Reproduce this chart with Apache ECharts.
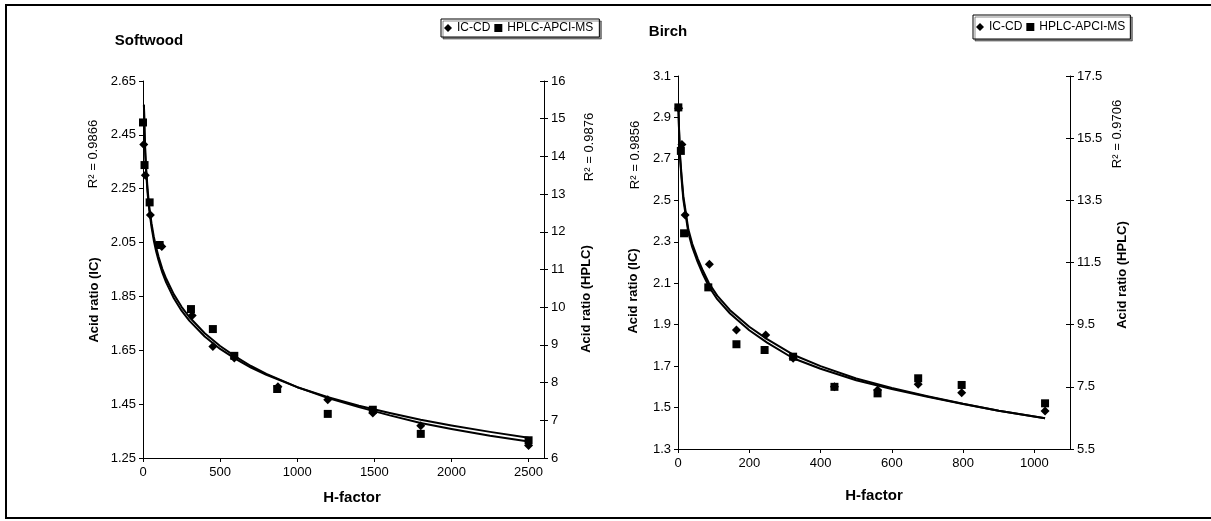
<!DOCTYPE html>
<html>
<head>
<meta charset="utf-8">
<script src="https://cdn.jsdelivr.net/npm/echarts@6/dist/echarts.min.js"></script>
<style>html,body{margin:0;padding:0;background:#fff}#c{width:1211px;height:521px}</style>
</head>
<body>
<div id="c"></div>
<script>
// ---------- Softwood ----------
const swIcH = [5, 15, 48, 122, 319, 453, 592, 875, 1198, 1490, 1801, 2500];
const swIcV = [2.414, 2.30, 2.152, 2.035, 1.779, 1.664, 1.621, 1.515, 1.466, 1.417, 1.37, 1.296];
const swHpH = [0, 10, 43, 108, 311, 453, 592, 870, 1198, 1490, 1801, 2500];
const swHpV = [14.9, 13.77, 12.78, 11.65, 9.95, 9.42, 8.71, 7.83, 7.17, 7.28, 6.64, 6.47];
const swTrH = [6, 10, 15, 20, 30, 40, 55, 70, 85, 100, 125, 150, 200, 250, 300, 400, 500, 600, 700, 800, 1000, 1200, 1400, 1600, 1800, 2000, 2250, 2500];
const swTrIcV = [2.562, 2.457, 2.374, 2.315, 2.232, 2.173, 2.108, 2.058, 2.018, 1.985, 1.939, 1.902, 1.843, 1.797, 1.760, 1.701, 1.655, 1.618, 1.586, 1.559, 1.513, 1.476, 1.444, 1.417, 1.392, 1.371, 1.347, 1.325];
const swTrHpV = [15.37, 14.67, 14.10, 13.71, 13.11, 12.69, 12.23, 11.87, 11.59, 11.35, 11.02, 10.76, 10.34, 10.01, 9.74, 9.31, 8.97, 8.69, 8.44, 8.23, 7.88, 7.59, 7.35, 7.13, 6.93, 6.77, 6.59, 6.44];
const swXTicks = [0, 500, 1000, 1500, 2000, 2500];
const swIcTicks = [1.25, 1.45, 1.65, 1.85, 2.05, 2.25, 2.45, 2.65];
const swHpTicks = [6, 7, 8, 9, 10, 11, 12, 13, 14, 15, 16];

// ---------- Birch ----------
const bIcH = [2, 11, 20, 88, 164, 246, 323, 439, 560, 674, 796, 1030];
const bIcV = [2.944, 2.77, 2.429, 2.191, 1.874, 1.85, 1.738, 1.601, 1.585, 1.612, 1.572, 1.483];
const bHpH = [1, 8, 17, 85, 164, 243, 323, 439, 560, 674, 796, 1030];
const bHpV = [16.49, 15.09, 12.44, 10.70, 8.87, 8.685, 8.47, 7.50, 7.29, 7.775, 7.56, 6.97];
const bTrH = [1, 3, 6, 10, 15, 22, 29, 40, 55, 70, 87, 110, 146, 200, 250, 323, 400, 500, 600, 700, 800, 900, 1030];
const bTrIcV = [2.96, 2.84, 2.71, 2.62, 2.52, 2.44, 2.36, 2.29, 2.22, 2.16, 2.10, 2.04, 1.97, 1.89, 1.83, 1.755, 1.70, 1.64, 1.595, 1.555, 1.518, 1.485, 1.448];
const bTrHpV = [16.57, 15.72, 14.82, 14.19, 13.52, 12.99, 12.46, 11.99, 11.52, 11.12, 10.72, 10.32, 9.86, 9.32, 8.92, 8.42, 8.08, 7.71, 7.43, 7.18, 6.95, 6.73, 6.49];
const bXTicks = [0, 200, 400, 600, 800, 1000];
const bIcTicks = [1.3, 1.5, 1.7, 1.9, 2.1, 2.3, 2.5, 2.7, 2.9, 3.1];
const bHpTicks = [5.5, 7.5, 9.5, 11.5, 13.5, 15.5, 17.5];

const zip = (a, b) => a.map((v, i) => [v, b[i]]);
const FONT = 'Liberation Sans, Arial, sans-serif';
const lineStyle = { color: '#000', width: 1 };
const lbl = (digits) => ({ color: '#000', fontSize: 13, fontFamily: FONT, formatter: v => digits == null ? String(v) : Number(v).toFixed(digits) });

function xAxis(grid, max, ticks) {
  return {
    type: 'value', gridIndex: grid, min: 0, max: max,
    axisLine: { show: true, lineStyle },
    axisTick: { show: true, inside: false, length: 4, lineStyle, customValues: ticks },
    axisLabel: Object.assign(lbl(null), { margin: 8, customValues: ticks }),
    splitLine: { show: false }
  };
}
function yAxis(grid, pos, min, max, ticks, digits, cross) {
  return {
    type: 'value', gridIndex: grid, position: pos, min: min, max: max,
    axisLine: { show: !cross, lineStyle },
    axisTick: { show: true, inside: !!cross, length: 4, lineStyle, customValues: ticks },
    axisLabel: Object.assign(lbl(digits), { show: !cross, margin: 7, customValues: ticks }),
    splitLine: { show: false }
  };
}
function scatter(name, x, y, xi, yi, sym, size) {
  return { type: 'scatter', name, xAxisIndex: xi, yAxisIndex: yi, data: zip(x, y), symbol: sym, symbolSize: size,
    itemStyle: { color: '#000', opacity: 1 }, z: 3 };
}
function trend(name, x, y, xi, yi) {
  return { type: 'line', name, xAxisIndex: xi, yAxisIndex: yi, data: zip(x, y), showSymbol: false, symbol: 'none',
    smooth: false, lineStyle: { color: '#000', width: 2, join: 'round' }, z: 2 };
}
function vtext(x, y, text, size, bold) {
  return { type: 'text', x, y, rotation: Math.PI / 2,
    style: { text, fill: '#000', font: (bold ? 'bold ' : '') + size + 'px ' + FONT, textAlign: 'center', textVerticalAlign: 'middle' } };
}
function htext(x, y, text, size, bold) {
  return { type: 'text', x, y,
    style: { text, fill: '#000', font: (bold ? 'bold ' : '') + size + 'px ' + FONT, textAlign: 'center', textVerticalAlign: 'middle' } };
}
const legendBase = {
  orient: 'horizontal', itemWidth: 8, itemHeight: 8, itemGap: 4, selectedMode: false,
  data: [{ name: 'IC-CD', icon: 'diamond' }, { name: 'HPLC-APCI-MS', icon: 'rect' }],
  textStyle: { color: '#000', fontSize: 12, fontFamily: FONT },
  backgroundColor: '#fff', borderColor: '#000', borderWidth: 1,
  shadowColor: 'rgba(0,0,0,0.45)', shadowOffsetX: 2, shadowOffsetY: 2, shadowBlur: 0
};

const option = {
  animation: false,
  backgroundColor: '#fff',
  grid: [
    { left: 143, top: 81, width: 401, height: 377 },
    { left: 678, top: 76, width: 392, height: 373 }
  ],
  legend: [
    Object.assign({}, legendBase, { left: 441, top: 19, padding: [3, 6, 3, 3] }),
    Object.assign({}, legendBase, { left: 973, top: 15, padding: [6, 5, 6, 3] })
  ],
  xAxis: [ xAxis(0, 2600, swXTicks), xAxis(1, 1100, bXTicks) ],
  yAxis: [
    yAxis(0, 'left', 1.25, 2.65, swIcTicks, 2, false),
    yAxis(0, 'right', 6, 16, swHpTicks, null, false),
    yAxis(0, 'right', 6, 16, swHpTicks, null, true),
    yAxis(1, 'left', 1.3, 3.1, bIcTicks, 1, false),
    yAxis(1, 'right', 5.5, 17.5, bHpTicks, 1, false),
    yAxis(1, 'right', 5.5, 17.5, bHpTicks, 1, true)
  ],
  series: [
    trend('sw-ic-fit', swTrH, swTrIcV, 0, 0),
    trend('sw-hp-fit', swTrH, swTrHpV, 0, 1),
    scatter('IC-CD', swIcH, swIcV, 0, 0, 'diamond', 9),
    scatter('HPLC-APCI-MS', swHpH, swHpV, 0, 1, 'rect', 8),
    trend('b-ic-fit', bTrH, bTrIcV, 1, 3),
    trend('b-hp-fit', bTrH, bTrHpV, 1, 4),
    scatter('IC-CD', bIcH, bIcV, 1, 3, 'diamond', 9),
    scatter('HPLC-APCI-MS', bHpH, bHpV, 1, 4, 'rect', 8)
  ],
  graphic: [
    { type: 'polyline', shape: { points: [[1211, 5], [6, 5], [6, 518], [1211, 518]] }, style: { stroke: '#000', lineWidth: 2, fill: null } },
    htext(149, 41, 'Softwood', 15, true),
    htext(668, 32, 'Birch', 15, true),
    htext(352, 498, 'H-factor', 15, true),
    htext(874, 496, 'H-factor', 15, true),
    vtext(94, 300, 'Acid ratio (IC)', 13, true),
    vtext(586, 299, 'Acid ratio (HPLC)', 13, true),
    vtext(633, 291, 'Acid ratio (IC)', 13, true),
    vtext(1122, 275, 'Acid ratio (HPLC)', 13, true),
    vtext(93, 154, 'R² = 0.9866', 13, false),
    vtext(589, 147, 'R² = 0.9876', 13, false),
    vtext(635, 155, 'R² = 0.9856', 13, false),
    vtext(1117, 134, 'R² = 0.9706', 13, false)
  ]
};
echarts.init(document.getElementById('c'), null, { renderer: 'canvas' }).setOption(option);
</script>
</body>
</html>
